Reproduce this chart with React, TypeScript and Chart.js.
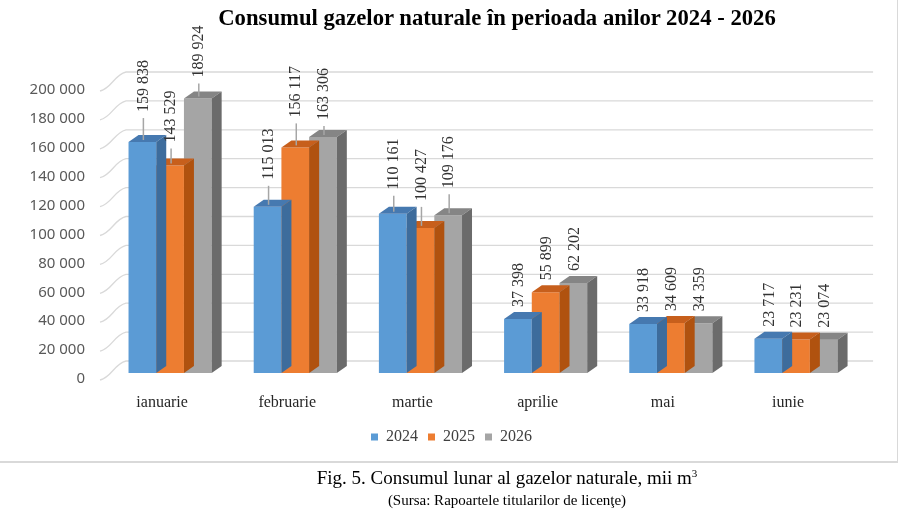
import { useEffect, useRef } from "react";
import { Chart, registerables } from "chart.js";

Chart.register(...registerables);

const months = ["ianuarie", "februarie", "martie", "aprilie", "mai", "iunie"];
const years = ["2024", "2025", "2026"];
const values2024 = [159838, 115013, 110161, 37398, 33918, 23717];
const values2025 = [143529, 156117, 100427, 55899, 34609, 23231];
const values2026 = [189924, 163306, 109176, 62202, 34359, 23074];
const yMax = 200000;
const yStep = 20000;

// extra lift (px) of the labels that were pulled up with leader lines
const labelLift = [
  [18, 15, 12, 0, 0, 0],
  [11, 18, 15, 0, 0, 0],
  [9, 5, 15, 0, 0, 0],
];

const frontColors = ["#5B9BD5", "#ED7D31", "#A5A5A5"];
const topColors = ["#4679B0", "#C75F1C", "#858585"];
const sideColors = ["#3D6C9C", "#B0520F", "#6B6B6B"];

const DX = 10; // bar depth
const DY = 7;

const fmt = (v: number) => String(v).replace(/\B(?=(\d{3})+(?!\d))/g, " ");

const bars3d = {
  id: "bars3d",
  afterLayout(chart: any) {
    // legend sits a bit right of the canvas centre in the original
    if (chart.legend) chart.legend.left += 44.4;
  },
  beforeDatasetsDraw(chart: any) {
    const { ctx, chartArea, scales } = chart;
    const y = scales.y;
    ctx.save();
    ctx.strokeStyle = "#d9d9d9";
    ctx.lineWidth = 1.3;
    y.ticks.forEach((t: any) => {
      const py = y.getPixelForValue(t.value);
      const fx = chartArea.left - 7.5;
      const bx = chartArea.left + 18.5;
      ctx.beginPath();
      ctx.moveTo(fx, py + 7);
      ctx.bezierCurveTo(fx + 12, py + 4, bx - 12, py - 9, bx, py - 12);
      ctx.lineTo(chartArea.right + 14.5, py - 12);
      ctx.stroke();
    });
    ctx.restore();
  },
  afterDatasetDraw(chart: any, args: any) {
    const { ctx } = chart;
    const i = args.index;
    const meta = chart.getDatasetMeta(i);
    ctx.save();
    meta.data.forEach((bar: any) => {
      const { x, y, base, width } = bar.getProps(["x", "y", "base", "width"], true);
      const l = x - width / 2;
      const r = x + width / 2;
      ctx.fillStyle = topColors[i];
      ctx.beginPath();
      ctx.moveTo(l, y);
      ctx.lineTo(l + DX, y - DY);
      ctx.lineTo(r + DX, y - DY);
      ctx.lineTo(r, y);
      ctx.closePath();
      ctx.fill();
      ctx.fillStyle = sideColors[i];
      ctx.beginPath();
      ctx.moveTo(r, y);
      ctx.lineTo(r + DX, y - DY);
      ctx.lineTo(r + DX, base - DY);
      ctx.lineTo(r, base);
      ctx.closePath();
      ctx.fill();
    });
    ctx.restore();
  },
  afterDatasetsDraw(chart: any) {
    const { ctx } = chart;
    ctx.save();
    ctx.font = '16px "Liberation Serif"';
    ctx.textAlign = "left";
    ctx.textBaseline = "middle";
    chart.data.datasets.forEach((ds: any, i: number) => {
      const meta = chart.getDatasetMeta(i);
      meta.data.forEach((bar: any, j: number) => {
        const { x, y } = bar.getProps(["x", "y"], true);
        const lift = labelLift[i][j];
        const lx = x + 1;
        const ly = y - 12 - lift;
        if (lift >= 5) {
          ctx.strokeStyle = "#a6a6a6";
          ctx.lineWidth = 1.5;
          ctx.beginPath();
          ctx.moveTo(lx, ly + 6);
          ctx.lineTo(lx, y - 2);
          ctx.stroke();
        }
        ctx.save();
        ctx.translate(lx, ly);
        ctx.rotate(-Math.PI / 2);
        ctx.fillStyle = "#333333";
        ctx.fillText(fmt(ds.data[j]), 0, 0);
        ctx.restore();
      });
    });
    ctx.restore();
  },
};

export default function App() {
  const chartRef = useRef<HTMLCanvasElement>(null);
  const chartInstance = useRef<Chart | null>(null);

  useEffect(() => {
    if (!chartRef.current) return;
    if (chartInstance.current) chartInstance.current.destroy();
    const ctx = chartRef.current.getContext("2d");
    if (!ctx) return;

    const series = [values2024, values2025, values2026];

    chartInstance.current = new Chart(ctx, {
      type: "bar",
      data: {
        labels: months,
        datasets: years.map((yr, i) => ({
          label: yr,
          data: series[i],
          backgroundColor: frontColors[i],
          borderWidth: 0,
          categoryPercentage: 0.664,
          barPercentage: 1,
        })),
      },
      options: {
        animation: false,
        responsive: true,
        maintainAspectRatio: false,
        layout: { padding: { top: 84, right: 38.4, bottom: 6, left: 0 } },
        plugins: {
          tooltip: { enabled: false },
          title: { display: false },
          legend: {
            position: "bottom",
            labels: {
              boxWidth: 7,
              boxHeight: 7,
              padding: 10,
              color: "#404040",
              font: { family: "Liberation Serif", size: 16 },
            },
          },
        },
        scales: {
          x: {
            grid: { display: false, drawTicks: false },
            border: { display: false },
            ticks: {
              color: "#262626",
              font: { family: "Liberation Serif", size: 16 },
              padding: 20,
              labelOffset: -8,
            },
            afterFit: (s: any) => {
              s.height = 46;
            },
          },
          y: {
            min: 0,
            max: yMax,
            grid: { display: false, drawTicks: false },
            border: { display: false },
            ticks: {
              stepSize: yStep,
              color: "#595959",
              font: { family: "Noto Sans", size: 15 },
              padding: 22.5,
              labelOffset: 6,
              callback: (v: any) => fmt(Number(v)),
            },
            afterFit: (s: any) => {
              s.width = 107.5;
            },
          },
        },
      },
      plugins: [bars3d],
    });

    return () => {
      if (chartInstance.current) {
        chartInstance.current.destroy();
        chartInstance.current = null;
      }
    };
  }, []);

  return (
    <div style={{ position: "fixed", left: 0, top: 0, width: 899, height: 510, background: "#fff" }}>
      <div
        style={{
          position: "absolute",
          left: 0,
          top: 0,
          width: 897,
          height: 461,
          borderRight: "1.5px solid #d9d9d9",
          borderBottom: "2px solid #d9d9d9",
        }}
      >
        <canvas ref={chartRef} />
      </div>
      <div
        style={{
          position: "absolute",
          left: 97,
          width: 800,
          top: 4,
          textAlign: "center",
          fontFamily: "Liberation Serif",
          fontWeight: "bold",
          fontSize: 22.7,
          lineHeight: "28px",
          color: "#000",
        }}
      >
        Consumul gazelor naturale în perioada anilor 2024 - 2026
      </div>
      <div
        style={{
          position: "absolute",
          left: 107,
          width: 800,
          top: 466,
          textAlign: "center",
          fontFamily: "Liberation Serif",
          fontSize: 19,
          lineHeight: "23px",
          color: "#000",
        }}
      >
        Fig. 5. Consumul lunar al gazelor naturale, mii m
        <sup style={{ fontSize: 11, verticalAlign: "top", lineHeight: "14px" }}>3</sup>
      </div>
      <div
        style={{
          position: "absolute",
          left: 107,
          width: 800,
          top: 491,
          textAlign: "center",
          fontFamily: "Liberation Serif",
          fontSize: 15,
          lineHeight: "18px",
          color: "#000",
        }}
      >
        (Sursa: Rapoartele titularilor de licenţe)
      </div>
    </div>
  );
}
